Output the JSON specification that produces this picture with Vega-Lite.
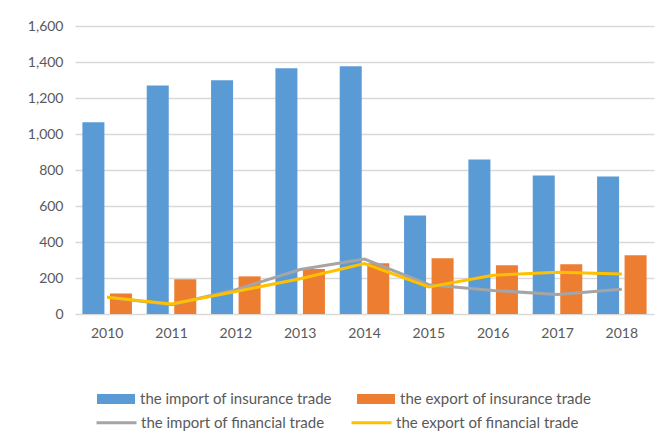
{
  "$schema": "https://vega.github.io/schema/vega-lite/v6.json",
  "width": 579,
  "height": 288,
  "autosize": {"type": "none"},
  "padding": {"left": 75, "top": 26, "right": 13, "bottom": 120},
  "background": "white",
  "config": {
    "view": {"stroke": null},
    "font": "Lato",
    "axis": {"labelColor": "#595959", "labelFontSize": 14, "domain": false, "ticks": false, "title": null},
    "legend": {"labelColor": "#595959", "labelFontSize": 15, "title": null, "labelLimit": 400}
  },
  "data": {
    "values": [
      {"year": "2010", "series": "the import of insurance trade", "kind": "bar", "value": 1065},
      {"year": "2011", "series": "the import of insurance trade", "kind": "bar", "value": 1270},
      {"year": "2012", "series": "the import of insurance trade", "kind": "bar", "value": 1298},
      {"year": "2013", "series": "the import of insurance trade", "kind": "bar", "value": 1365},
      {"year": "2014", "series": "the import of insurance trade", "kind": "bar", "value": 1376},
      {"year": "2015", "series": "the import of insurance trade", "kind": "bar", "value": 547},
      {"year": "2016", "series": "the import of insurance trade", "kind": "bar", "value": 859},
      {"year": "2017", "series": "the import of insurance trade", "kind": "bar", "value": 770},
      {"year": "2018", "series": "the import of insurance trade", "kind": "bar", "value": 764},
      {"year": "2010", "series": "the export of insurance trade", "kind": "bar", "value": 114},
      {"year": "2011", "series": "the export of insurance trade", "kind": "bar", "value": 193},
      {"year": "2012", "series": "the export of insurance trade", "kind": "bar", "value": 209},
      {"year": "2013", "series": "the export of insurance trade", "kind": "bar", "value": 250},
      {"year": "2014", "series": "the export of insurance trade", "kind": "bar", "value": 282},
      {"year": "2015", "series": "the export of insurance trade", "kind": "bar", "value": 310},
      {"year": "2016", "series": "the export of insurance trade", "kind": "bar", "value": 271},
      {"year": "2017", "series": "the export of insurance trade", "kind": "bar", "value": 277},
      {"year": "2018", "series": "the export of insurance trade", "kind": "bar", "value": 327},
      {"year": "2010", "series": "the import of financial trade", "kind": "line", "value": 93},
      {"year": "2011", "series": "the import of financial trade", "kind": "line", "value": 52},
      {"year": "2012", "series": "the import of financial trade", "kind": "line", "value": 135},
      {"year": "2013", "series": "the import of financial trade", "kind": "line", "value": 247},
      {"year": "2014", "series": "the import of financial trade", "kind": "line", "value": 305},
      {"year": "2015", "series": "the import of financial trade", "kind": "line", "value": 163},
      {"year": "2016", "series": "the import of financial trade", "kind": "line", "value": 131},
      {"year": "2017", "series": "the import of financial trade", "kind": "line", "value": 108},
      {"year": "2018", "series": "the import of financial trade", "kind": "line", "value": 138},
      {"year": "2010", "series": "the export of financial trade", "kind": "line", "value": 93},
      {"year": "2011", "series": "the export of financial trade", "kind": "line", "value": 56},
      {"year": "2012", "series": "the export of financial trade", "kind": "line", "value": 125},
      {"year": "2013", "series": "the export of financial trade", "kind": "line", "value": 196},
      {"year": "2014", "series": "the export of financial trade", "kind": "line", "value": 280},
      {"year": "2015", "series": "the export of financial trade", "kind": "line", "value": 150},
      {"year": "2016", "series": "the export of financial trade", "kind": "line", "value": 215},
      {"year": "2017", "series": "the export of financial trade", "kind": "line", "value": 232},
      {"year": "2018", "series": "the export of financial trade", "kind": "line", "value": 222}
    ]
  },
  "encoding": {
    "x": {
      "field": "year", "type": "nominal",
      "scale": {"paddingInner": 0.23, "paddingOuter": 0.115},
      "axis": {"labelAngle": 0, "labelPadding": 12, "grid": false}
    },
    "y": {
      "field": "value", "type": "quantitative",
      "scale": {"domain": [0, 1600]},
      "axis": {"values": [0, 200, 400, 600, 800, 1000, 1200, 1400, 1600], "format": ",d", "gridColor": "#D9D9D9", "gridWidth": 1.3, "labelPadding": 12, "labelOverlap": false}
    }
  },
  "layer": [
    {
      "transform": [{"filter": "datum.kind === 'bar'"}],
      "mark": {"type": "bar"},
      "encoding": {
        "xOffset": {
          "field": "series", "type": "nominal",
          "sort": ["the import of insurance trade", "the export of insurance trade"],
          "scale": {"paddingInner": 0.2}
        },
        "fill": {
          "field": "series", "type": "nominal",
          "scale": {"domain": ["the import of insurance trade", "the export of insurance trade"], "range": ["#5B9BD5", "#ED7D31"]},
          "legend": {
            "orient": "none", "legendX": 22, "legendY": 354, "direction": "horizontal", "columns": 2,
            "symbolType": "M-1,-0.26H1V0.26H-1Z", "symbolSize": 1444, "symbolStrokeWidth": 0,
            "labelOffset": 5, "columnPadding": 25
          }
        }
      }
    },
    {
      "transform": [{"filter": "datum.series === 'the import of financial trade'"}],
      "mark": {"type": "line", "strokeWidth": 3},
      "encoding": {
        "stroke": {
          "datum": "the import of financial trade",
          "scale": {"domain": ["the import of financial trade", "the export of financial trade"], "range": ["#A5A5A5", "#FFC000"]},
          "legend": {
            "orient": "none", "legendX": 20, "legendY": 375, "direction": "horizontal", "columns": 2,
            "symbolType": "stroke", "symbolSize": 1600, "symbolStrokeWidth": 3,
            "labelOffset": 3, "columnPadding": 20
          }
        }
      }
    },
    {
      "transform": [{"filter": "datum.series === 'the export of financial trade'"}],
      "mark": {"type": "line", "strokeWidth": 3},
      "encoding": {
        "stroke": {"datum": "the export of financial trade"}
      }
    }
  ]
}
